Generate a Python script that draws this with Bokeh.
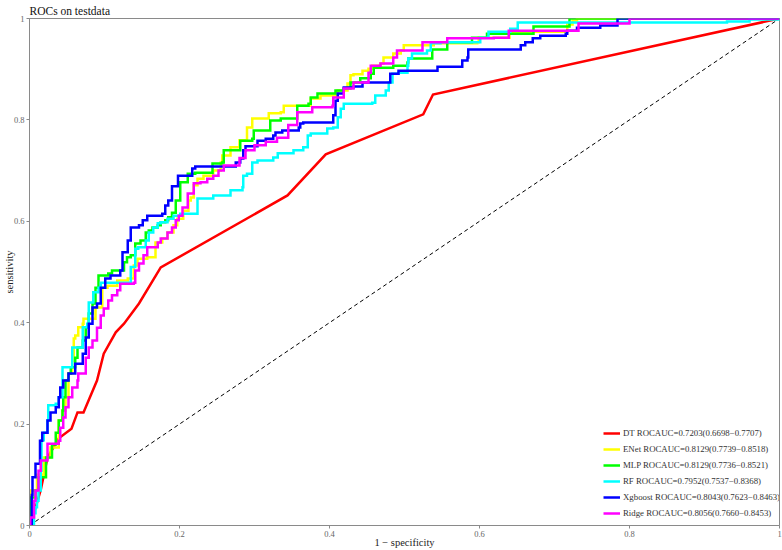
from bokeh.plotting import figure
from bokeh.models import Range1d, FixedTicker, Legend
from bokeh.embed import file_html
from bokeh.resources import INLINE

# ROC curve points (1 - specificity, sensitivity) for each model
dt_fpr = [0, 0.005, 0.015, 0.024, 0.039, 0.056, 0.064, 0.072, 0.09, 0.099, 0.115, 0.126, 0.146, 0.175, 0.344, 0.395, 0.525, 0.538, 1]
dt_tpr = [0, 0.02, 0.07, 0.134, 0.172, 0.191, 0.223, 0.223, 0.286, 0.339, 0.381, 0.398, 0.438, 0.509, 0.651, 0.732, 0.811, 0.85, 1]

enet_fpr = [0, 0.001, 0.01, 0.019, 0.024, 0.028, 0.039, 0.044, 0.048, 0.052, 0.057, 0.059, 0.061, 0.065, 0.071, 0.072, 0.081, 0.088, 0.097, 0.104, 0.117, 0.131, 0.139, 0.144, 0.157, 0.168, 0.177, 0.184, 0.192, 0.197, 0.205, 0.212, 0.215, 0.219, 0.224, 0.232, 0.245, 0.255, 0.257, 0.268, 0.28, 0.29, 0.297, 0.319, 0.335, 0.339, 0.355, 0.375, 0.388, 0.411, 0.424, 0.428, 0.432, 0.444, 0.452, 0.457, 0.468, 0.472, 0.485, 0.495, 0.499, 0.539, 0.597, 0.599, 0.625, 0.64, 0.697, 0.717, 0.724, 0.73, 1]
enet_tpr = [0, 0.069, 0.1, 0.134, 0.134, 0.154, 0.207, 0.227, 0.253, 0.3, 0.325, 0.369, 0.375, 0.391, 0.398, 0.408, 0.408, 0.43, 0.469, 0.473, 0.483, 0.487, 0.513, 0.526, 0.529, 0.558, 0.566, 0.578, 0.592, 0.605, 0.621, 0.641, 0.647, 0.671, 0.684, 0.69, 0.7, 0.716, 0.73, 0.746, 0.76, 0.785, 0.803, 0.813, 0.815, 0.828, 0.828, 0.842, 0.848, 0.858, 0.872, 0.888, 0.89, 0.897, 0.901, 0.907, 0.911, 0.923, 0.931, 0.937, 0.947, 0.951, 0.953, 0.962, 0.962, 0.974, 0.974, 0.988, 0.996, 1.0, 1]

mlp_fpr = [0, 0.001, 0.006, 0.008, 0.012, 0.021, 0.022, 0.03, 0.035, 0.039, 0.044, 0.045, 0.048, 0.052, 0.055, 0.061, 0.064, 0.071, 0.075, 0.079, 0.084, 0.088, 0.092, 0.105, 0.11, 0.121, 0.126, 0.13, 0.135, 0.141, 0.148, 0.155, 0.159, 0.164, 0.171, 0.175, 0.181, 0.185, 0.19, 0.195, 0.201, 0.208, 0.211, 0.221, 0.244, 0.257, 0.259, 0.279, 0.281, 0.297, 0.299, 0.317, 0.321, 0.335, 0.357, 0.357, 0.372, 0.375, 0.384, 0.405, 0.408, 0.419, 0.428, 0.441, 0.455, 0.459, 0.485, 0.504, 0.505, 0.535, 0.537, 0.552, 0.557, 0.572, 0.59, 0.61, 0.671, 0.672, 0.697, 0.72, 1]
mlp_tpr = [0, 0.055, 0.055, 0.069, 0.095, 0.095, 0.134, 0.16, 0.183, 0.207, 0.227, 0.253, 0.286, 0.3, 0.312, 0.331, 0.351, 0.365, 0.391, 0.418, 0.438, 0.469, 0.493, 0.497, 0.503, 0.503, 0.519, 0.529, 0.533, 0.556, 0.562, 0.578, 0.582, 0.588, 0.592, 0.598, 0.602, 0.608, 0.617, 0.641, 0.677, 0.677, 0.694, 0.696, 0.714, 0.716, 0.74, 0.74, 0.759, 0.763, 0.779, 0.779, 0.799, 0.803, 0.813, 0.828, 0.832, 0.844, 0.852, 0.852, 0.858, 0.862, 0.874, 0.882, 0.891, 0.903, 0.907, 0.913, 0.921, 0.921, 0.939, 0.939, 0.953, 0.953, 0.962, 0.97, 0.97, 0.984, 0.984, 1.0, 1]

rf_fpr = [0, 0.006, 0.008, 0.01, 0.012, 0.015, 0.016, 0.019, 0.024, 0.025, 0.035, 0.039, 0.044, 0.044, 0.055, 0.057, 0.065, 0.071, 0.077, 0.079, 0.085, 0.092, 0.095, 0.132, 0.135, 0.141, 0.145, 0.155, 0.159, 0.165, 0.171, 0.175, 0.184, 0.192, 0.201, 0.219, 0.224, 0.245, 0.268, 0.284, 0.285, 0.29, 0.297, 0.304, 0.325, 0.331, 0.352, 0.365, 0.371, 0.375, 0.397, 0.405, 0.411, 0.415, 0.419, 0.457, 0.461, 0.475, 0.479, 0.484, 0.492, 0.504, 0.505, 0.51, 0.53, 0.535, 0.548, 0.601, 0.612, 0.641, 0.651, 0.912, 0.93, 0.96, 1]
rf_tpr = [0, 0.024, 0.036, 0.049, 0.069, 0.108, 0.168, 0.183, 0.207, 0.237, 0.24, 0.253, 0.286, 0.312, 0.312, 0.351, 0.351, 0.391, 0.398, 0.44, 0.46, 0.469, 0.479, 0.479, 0.51, 0.546, 0.549, 0.562, 0.578, 0.588, 0.596, 0.598, 0.605, 0.611, 0.615, 0.615, 0.645, 0.651, 0.661, 0.667, 0.69, 0.694, 0.716, 0.72, 0.726, 0.734, 0.74, 0.746, 0.769, 0.773, 0.783, 0.785, 0.805, 0.822, 0.832, 0.834, 0.848, 0.858, 0.874, 0.891, 0.893, 0.907, 0.921, 0.931, 0.937, 0.951, 0.953, 0.962, 0.974, 0.98, 0.992, 0.992, 0.994, 0.998, 1]

xgb_fpr = [0, 0.003, 0.004, 0.008, 0.008, 0.013, 0.014, 0.017, 0.024, 0.028, 0.035, 0.039, 0.041, 0.045, 0.052, 0.061, 0.071, 0.075, 0.079, 0.084, 0.09, 0.095, 0.101, 0.108, 0.121, 0.124, 0.131, 0.135, 0.146, 0.151, 0.157, 0.177, 0.181, 0.185, 0.19, 0.198, 0.215, 0.217, 0.221, 0.272, 0.275, 0.281, 0.285, 0.288, 0.301, 0.304, 0.315, 0.325, 0.328, 0.337, 0.351, 0.359, 0.361, 0.365, 0.404, 0.405, 0.408, 0.411, 0.417, 0.419, 0.432, 0.444, 0.477, 0.481, 0.492, 0.541, 0.544, 0.575, 0.577, 0.584, 0.585, 0.652, 0.655, 0.661, 0.671, 0.681, 0.715, 0.717, 0.73, 0.761, 0.784, 1]
xgb_tpr = [0, 0.06, 0.095, 0.095, 0.122, 0.122, 0.167, 0.183, 0.207, 0.223, 0.233, 0.253, 0.272, 0.286, 0.3, 0.319, 0.339, 0.371, 0.398, 0.43, 0.438, 0.469, 0.487, 0.493, 0.503, 0.539, 0.562, 0.588, 0.592, 0.602, 0.611, 0.615, 0.631, 0.641, 0.669, 0.69, 0.69, 0.704, 0.708, 0.708, 0.716, 0.724, 0.74, 0.748, 0.748, 0.759, 0.763, 0.769, 0.775, 0.779, 0.779, 0.785, 0.793, 0.795, 0.795, 0.809, 0.838, 0.852, 0.852, 0.864, 0.866, 0.874, 0.874, 0.891, 0.897, 0.897, 0.905, 0.905, 0.917, 0.923, 0.939, 0.939, 0.947, 0.953, 0.961, 0.966, 0.97, 0.976, 0.982, 0.986, 1.0, 1]

ridge_fpr = [0, 0.001, 0.006, 0.008, 0.012, 0.015, 0.021, 0.024, 0.032, 0.039, 0.041, 0.045, 0.048, 0.052, 0.057, 0.064, 0.065, 0.075, 0.079, 0.084, 0.09, 0.095, 0.099, 0.105, 0.11, 0.117, 0.121, 0.139, 0.141, 0.146, 0.152, 0.157, 0.171, 0.175, 0.184, 0.19, 0.195, 0.199, 0.204, 0.211, 0.219, 0.228, 0.237, 0.245, 0.252, 0.259, 0.275, 0.28, 0.288, 0.3, 0.315, 0.33, 0.345, 0.357, 0.377, 0.404, 0.405, 0.419, 0.432, 0.452, 0.455, 0.468, 0.485, 0.49, 0.509, 0.524, 0.557, 0.619, 0.639, 0.73, 0.732, 0.799, 0.8, 1]
ridge_tpr = [0, 0.016, 0.049, 0.069, 0.108, 0.128, 0.128, 0.161, 0.161, 0.167, 0.193, 0.213, 0.233, 0.253, 0.272, 0.286, 0.3, 0.331, 0.351, 0.365, 0.39, 0.414, 0.428, 0.444, 0.454, 0.464, 0.477, 0.479, 0.503, 0.517, 0.533, 0.549, 0.558, 0.566, 0.578, 0.588, 0.602, 0.611, 0.627, 0.655, 0.675, 0.677, 0.684, 0.69, 0.7, 0.71, 0.71, 0.725, 0.74, 0.75, 0.757, 0.765, 0.79, 0.815, 0.825, 0.828, 0.844, 0.862, 0.874, 0.893, 0.907, 0.911, 0.923, 0.937, 0.937, 0.953, 0.961, 0.962, 0.976, 0.976, 0.99, 0.99, 1.0, 1]

labels = [
    "DT ROCAUC=0.7203(0.6698\u22120.7707)",
    "ENet ROCAUC=0.8129(0.7739\u22120.8518)",
    "MLP ROCAUC=0.8129(0.7736\u22120.8521)",
    "RF ROCAUC=0.7952(0.7537\u22120.8368)",
    "Xgboost ROCAUC=0.8043(0.7623\u22120.8463)",
    "Ridge ROCAUC=0.8056(0.7660\u22120.8453)",
]
colors = ["#FF0000", "#FFFF00", "#00FF00", "#00FFFF", "#0000FF", "#FF00FF"]
tick_values = [0, 0.2, 0.4, 0.6, 0.8, 1]
tick_labels = ["0", "0.2", "0.4", "0.6", "0.8", "1"]

SERIF = "'Liberation Serif', 'Times New Roman', serif"


def staircase(xs, ys):
    """Expand ROC points into a right-then-up staircase."""
    sx, sy = [xs[0]], [ys[0]]
    for i in range(1, len(xs)):
        sx += [xs[i], xs[i]]
        sy += [ys[i - 1], ys[i]]
    return sx, sy


p = figure(
    width=782, height=550,
    x_range=Range1d(0, 1), y_range=Range1d(0, 1),
    output_backend="svg", toolbar_location=None,
    min_border_left=29, min_border_right=3, min_border_top=18, min_border_bottom=25,
    background_fill_color="white", border_fill_color="white",
)

p.title.text = "ROCs on testdata"
p.title.text_font = SERIF
p.title.text_font_size = "11.5px"
p.title.text_font_style = "normal"
p.title.text_color = "#111111"
p.title.standoff = 3
p.title.offset = 0

p.outline_line_color = "#8a8a8a"
p.outline_line_width = 1
p.xgrid.visible = False
p.ygrid.visible = False

for ax in (p.xaxis[0], p.yaxis[0]):
    ax.ticker = FixedTicker(ticks=tick_values)
    ax.major_label_overrides = {v: s for v, s in zip(tick_values, tick_labels)}
    ax.axis_line_color = "#8a8a8a"
    ax.major_tick_line_color = "#8a8a8a"
    ax.minor_tick_line_color = None
    ax.major_tick_in = 0
    ax.major_tick_out = 3
    ax.major_label_text_font = SERIF
    ax.major_label_text_font_size = "8.5px"
    ax.major_label_text_color = "#666666"
    ax.major_label_standoff = 2
    ax.axis_label_text_font = SERIF
    ax.axis_label_text_font_size = "10.5px"
    ax.axis_label_text_font_style = "normal"
    ax.axis_label_text_color = "#222222"

p.xaxis.axis_label = "1 \u2212 specificity"
p.yaxis.axis_label = "sensitivity"
p.xaxis.axis_label_standoff = -3
p.yaxis.axis_label_standoff = -4

# chance diagonal
p.line([0, 1], [0, 1], line_color="black", line_width=1, line_dash="4 3")

curves = [
    (dt_fpr, dt_tpr, False),
    (enet_fpr, enet_tpr, True),
    (mlp_fpr, mlp_tpr, True),
    (rf_fpr, rf_tpr, True),
    (xgb_fpr, xgb_tpr, True),
    (ridge_fpr, ridge_tpr, True),
]

items = []
for (fx, fy, stepped), col, lab in zip(curves, colors, labels):
    xs, ys = staircase(fx, fy) if stepped else (fx, fy)
    r = p.line(xs, ys, line_color=col, line_width=2.5, line_join="miter")
    items.append((lab, [r]))

legend = Legend(items=items, location=(574, 5))
legend.border_line_color = None
legend.background_fill_alpha = 0
legend.label_text_font = SERIF
legend.label_text_font_size = "8.8px"
legend.label_text_color = "#333333"
legend.glyph_width = 17
legend.glyph_height = 14
legend.label_height = 14
legend.spacing = 2
legend.label_standoff = 3
legend.padding = 2
legend.margin = 0
p.add_layout(legend)

open("out.html", "w").write(file_html(p, INLINE))
